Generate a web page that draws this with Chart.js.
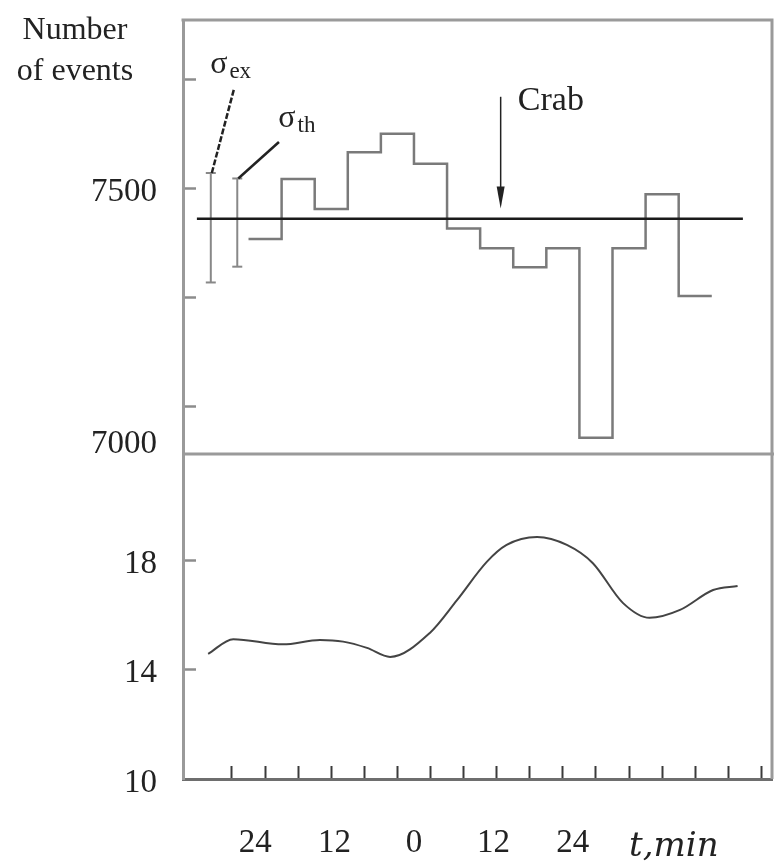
<!DOCTYPE html>
<html>
<head>
<meta charset="utf-8">
<script src="https://cdn.jsdelivr.net/npm/chart.js@4.4.1/dist/chart.umd.min.js"></script>
<style>
  html, body { margin: 0; padding: 0; background: #fff; }
  canvas { display: block; }
</style>
</head>
<body>
<canvas id="crabChart" width="774" height="862"></canvas>
<script>
// 5-minute bins, time in minutes relative to t = 0
var binStart = -25;
var binWidth = 5;
var eventCounts = [7408, 7518, 7463, 7567, 7601, 7546, 7427, 7391, 7356, 7391, 7043, 7391, 7490, 7303];
var meanCount = 7445;
var meanSpan = [-32.8, 49.7];

// error bar examples (experimental / theoretical)
var sigmaExTime = -30.7;
var sigmaExRange = [7328, 7529];
var sigmaThTime = -26.7;
var sigmaThRange = [7357, 7519];

// lower panel curve
var lowerTimes = [-31.1, -27.3, -19.8, -14.2, -10.7, -7.1, -3.6, 2.4, 6.5, 11.0, 14.0, 18.6, 23.1, 27.0, 31.6, 35.6, 40.2, 45.2, 48.9];
var lowerValues = [14.58, 15.12, 14.93, 15.09, 15.03, 14.80, 14.47, 15.35, 16.55, 17.95, 18.57, 18.86, 18.57, 17.91, 16.44, 15.90, 16.19, 16.92, 17.07];

// axis ticks
var tickMarkTimes = [-27.5, -22.5, -17.5, -12.5, -7.5, -2.5, 2.5, 7.5, 12.5, 17.5, 22.5, 27.5, 32.5, 37.5, 42.5, 47.5, 52.5];
var labelTimes = [-24, -12, 0, 12, 24];
var countTicks = [7100, 7200, 7300, 7400, 7500, 7600, 7700];
var countLabels = [7500];
var lowerTicks = [10, 12, 14, 16, 18, 20];
var lowerLabels = [10, 14, 18];

var crabTime = 13.1;
var crabArrow = [7669, 7464];

var serif = '"Liberation Serif", "Times New Roman", serif';
Chart.defaults.font.family = serif;

function histogramPoints() {
  var pts = eventCounts.map(function(c, i) {
    return {x: binStart + i * binWidth, y: c};
  });
  pts.push({x: binStart + eventCounts.length * binWidth, y: eventCounts[eventCounts.length - 1]});
  return pts;
}

function errorBar(t, range) {
  return [{x: t, y: range[0]}, {x: t, y: range[1]}];
}

// fixed axis box, no extra room reserved for edge labels
function fixBox(size) {
  return function(scale) {
    if (scale.isHorizontal()) scale.height = size; else scale.width = size;
    scale.paddingTop = scale.paddingBottom = scale.paddingLeft = scale.paddingRight = 0;
  };
}

// frame lines, annotations and labels that are not part of the scales
var figureNotes = {
  id: 'figureNotes',
  beforeDatasetsDraw: function(chart) {
    var ctx = chart.ctx, area = chart.chartArea, yTop = chart.scales.yTop;
    ctx.save();
    ctx.strokeStyle = '#9a9a9a';
    ctx.lineWidth = 3;
    ctx.beginPath();
    ctx.moveTo(area.left - 1.5, area.top);
    ctx.lineTo(area.right, area.top);
    ctx.lineTo(area.right, area.bottom);
    ctx.moveTo(area.left, yTop.bottom);
    ctx.lineTo(area.right + 2, yTop.bottom);
    ctx.stroke();
    ctx.restore();
  },
  afterDraw: function(chart) {
    var ctx = chart.ctx, area = chart.chartArea;
    var x = chart.scales.x, yTop = chart.scales.yTop;
    var px = function(t) { return x.getPixelForValue(t); };
    var py = function(v) { return yTop.getPixelForValue(v); };
    ctx.save();
    ctx.fillStyle = '#222';
    ctx.strokeStyle = '#222';

    // y title
    ctx.font = '32px ' + serif;
    ctx.textAlign = 'center';
    ctx.textBaseline = 'alphabetic';
    ctx.fillText('Number', 75, area.top + 19);
    ctx.fillText('of events', 75, area.top + 60);

    // bottom label of the upper scale, sitting on the divider
    ctx.font = '33px ' + serif;
    ctx.textAlign = 'right';
    ctx.fillText('7000', 157, yTop.bottom - 1);

    // sigma leaders
    ctx.lineWidth = 2.5;
    ctx.setLineDash([6, 2]);
    ctx.beginPath();
    ctx.moveTo(px(sigmaExTime) + 1, py(sigmaExRange[1]));
    ctx.lineTo(px(-27.2), py(7683));
    ctx.stroke();
    ctx.setLineDash([]);
    ctx.beginPath();
    ctx.moveTo(px(sigmaThTime) + 1, py(sigmaThRange[1]));
    ctx.lineTo(px(-20.4), py(7586));
    ctx.stroke();

    // sigma labels
    function sigma(t, v, sub) {
      ctx.textAlign = 'left';
      ctx.font = '32px ' + serif;
      var sx = px(t), sy = py(v);
      ctx.fillText('\u03c3', sx, sy);
      var w = ctx.measureText('\u03c3').width;
      ctx.font = '23px ' + serif;
      ctx.fillText(sub, sx + w + 2, sy + 5);
    }
    sigma(-30.8, 7713, 'ex');
    sigma(-20.5, 7614, 'th');

    // Crab arrow
    var ax = px(crabTime), a0 = py(crabArrow[0]), a1 = py(crabArrow[1]);
    ctx.lineWidth = 1.5;
    ctx.beginPath();
    ctx.moveTo(ax, a0);
    ctx.lineTo(ax, a1 - 18);
    ctx.stroke();
    ctx.beginPath();
    ctx.moveTo(ax, a1);
    ctx.lineTo(ax - 4, a1 - 22);
    ctx.lineTo(ax + 4, a1 - 22);
    ctx.closePath();
    ctx.fill();
    ctx.font = '34px ' + serif;
    ctx.textAlign = 'left';
    ctx.fillText('Crab', px(15.7), py(7645));

    // x title
    ctx.font = 'italic 34px "DejaVu Serif", serif';
    ctx.fillText('t,min', px(32.5), x.top + 77);
    ctx.restore();
  }
};

window.onload = function() {
  var ctx = document.getElementById('crabChart').getContext('2d');
  new Chart(ctx, {
    type: 'line',
    data: {
      datasets: [{
        data: [{x: meanSpan[0], y: meanCount}, {x: meanSpan[1], y: meanCount}],
        yAxisID: 'yTop',
        borderColor: '#1a1a1a',
        borderWidth: 2.5,
        pointRadius: 0
      }, {
        data: histogramPoints(),
        yAxisID: 'yTop',
        stepped: true,
        borderColor: '#7a7a7a',
        borderWidth: 2.5,
        pointRadius: 0
      }, {
        data: errorBar(sigmaExTime, sigmaExRange),
        yAxisID: 'yTop',
        borderColor: '#888',
        borderWidth: 2,
        pointStyle: 'line',
        pointRadius: 5,
        pointBorderWidth: 2,
        pointBorderColor: '#888'
      }, {
        data: errorBar(sigmaThTime, sigmaThRange),
        yAxisID: 'yTop',
        borderColor: '#888',
        borderWidth: 2,
        pointStyle: 'line',
        pointRadius: 5,
        pointBorderWidth: 2,
        pointBorderColor: '#888'
      }, {
        data: lowerTimes.map(function(t, i) { return {x: t, y: lowerValues[i]}; }),
        yAxisID: 'yBot',
        borderColor: '#444',
        borderWidth: 2,
        pointRadius: 0,
        cubicInterpolationMode: 'monotone'
      }]
    },
    options: {
      responsive: false,
      animation: false,
      layout: { autoPadding: false, padding: { top: 20, right: 2, left: 0, bottom: 0 } },
      plugins: { legend: { display: false }, tooltip: { enabled: false } },
      scales: {
        x: {
          type: 'linear',
          min: -34.9,
          max: 54.1,
          afterBuildTicks: function(scale) {
            scale.ticks = tickMarkTimes.concat(labelTimes)
              .sort(function(a, b) { return a - b; })
              .map(function(v) { return {value: v}; });
          },
          afterFit: fixBox(83),
          border: { display: true, color: '#6e6e6e', width: 3 },
          grid: {
            drawOnChartArea: false,
            drawTicks: true,
            tickLength: -13,
            tickWidth: 2,
            tickColor: function(c) {
              return labelTimes.indexOf(c.tick.value) >= 0 ? 'rgba(0,0,0,0)' : '#3a3a3a';
            }
          },
          ticks: {
            autoSkip: false,
            maxRotation: 0,
            padding: 58,
            color: '#222',
            font: { size: 33 },
            callback: function(v) {
              return labelTimes.indexOf(v) >= 0 ? String(Math.abs(v)) : '';
            }
          }
        },
        yTop: {
          type: 'linear',
          position: 'left',
          stack: 'panels',
          stackWeight: 434,
          weight: 2,
          min: 7013,
          max: 7810,
          afterBuildTicks: function(scale) {
            scale.ticks = countTicks.map(function(v) { return {value: v}; });
          },
          afterFit: fixBox(183),
          border: { display: true, color: '#9a9a9a', width: 3 },
          grid: { drawOnChartArea: false, drawTicks: true, tickLength: -13, tickWidth: 2.5, tickColor: '#8c8c8c' },
          ticks: {
            padding: 39,
            labelOffset: 4,
            color: '#222',
            font: { size: 33 },
            callback: function(v) { return countLabels.indexOf(v) >= 0 ? String(v) : ''; }
          }
        },
        yBot: {
          type: 'linear',
          position: 'left',
          stack: 'panels',
          stackWeight: 325,
          weight: 1,
          min: 10,
          max: 21.9,
          afterBuildTicks: function(scale) {
            scale.ticks = lowerTicks.map(function(v) { return {value: v}; });
          },
          afterFit: fixBox(183),
          border: { display: true, color: '#9a9a9a', width: 3 },
          grid: { drawOnChartArea: false, drawTicks: true, tickLength: -13, tickWidth: 2.5, tickColor: '#8c8c8c' },
          ticks: {
            padding: 39,
            labelOffset: 4,
            color: '#222',
            font: { size: 33 },
            callback: function(v) { return lowerLabels.indexOf(v) >= 0 ? String(v) : ''; }
          }
        }
      }
    },
    plugins: [figureNotes]
  });
};
</script>
</body>
</html>
